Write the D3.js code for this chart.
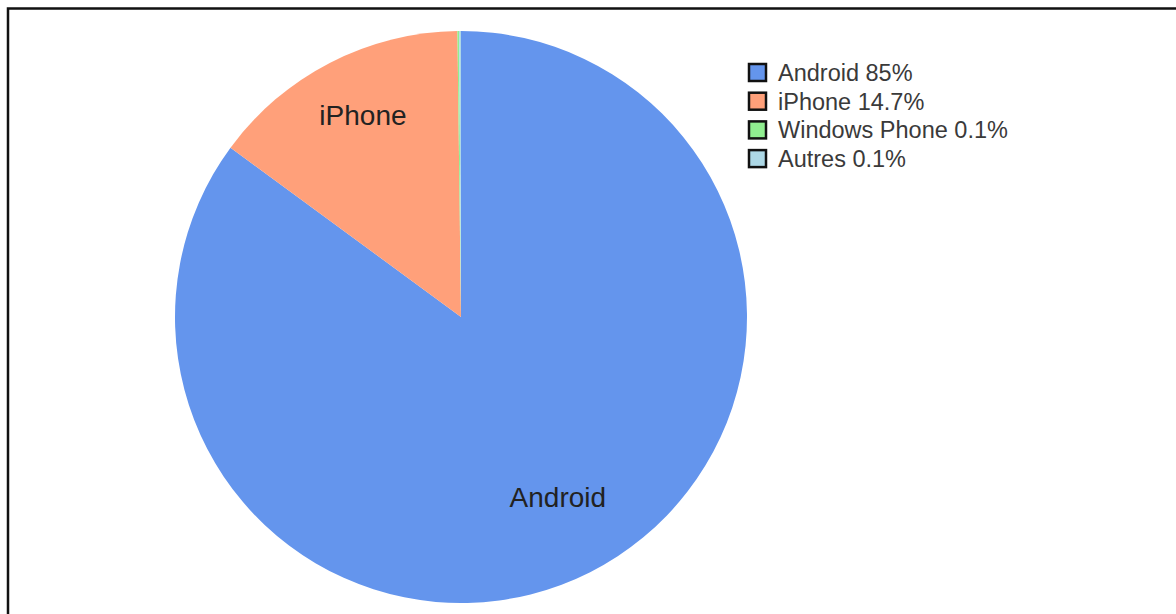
<!DOCTYPE html>
<html>
<head>
<meta charset="utf-8">
<script src="https://cdn.jsdelivr.net/npm/d3@7"></script>
<style>
  body { margin: 0; background: #fff; }
  svg { display: block; font-family: "Liberation Sans", Arial, sans-serif; }
</style>
</head>
<body>
<div id="chart"></div>
<script>
// Données du graphique
const categories = ["Android", "iPhone", "Windows Phone", "Autres"];
const values = [85, 14.7, 0.1, 0.1];
const legendLabels = ["Android 85%", "iPhone 14.7%", "Windows Phone 0.1%", "Autres 0.1%"];
const sliceLabels = ["Android", "iPhone", "", ""];
const sliceColors = ["#6495ED", "#FFA07A", "#90EE90", "#ADD8E6"];

const width = 1176;
const height = 614;
const cx = 461, cy = 317, radius = 286;

const svg = d3.select("#chart")
  .append("svg")
  .attr("width", width)
  .attr("height", height);

// cadre
svg.append("rect")
  .attr("x", 8)
  .attr("y", 8.5)
  .attr("width", width + 20)
  .attr("height", height + 20)
  .attr("fill", "none")
  .attr("stroke", "#111")
  .attr("stroke-width", 2.5);

const data = categories.map((c, i) => ({ name: c, value: values[i], label: sliceLabels[i], legend: legendLabels[i] }));

const color = d3.scaleOrdinal().domain(categories).range(sliceColors);

const pie = d3.pie().sort(null).value(d => d.value);
const arc = d3.arc().innerRadius(0).outerRadius(radius);
const labelArc = d3.arc().innerRadius(radius * 0.75).outerRadius(radius * 0.75);

const g = svg.append("g").attr("transform", "translate(" + cx + "," + cy + ")");

const arcs = pie(data);

g.selectAll("path")
  .data(arcs)
  .enter()
  .append("path")
  .attr("d", arc)
  .attr("fill", d => color(d.data.name));

g.selectAll("text")
  .data(arcs.filter(d => d.data.label))
  .enter()
  .append("text")
  .attr("x", d => labelArc.centroid(d)[0])
  .attr("y", d => labelArc.centroid(d)[1] - 1)
  .attr("text-anchor", "middle")
  .attr("font-size", 28)
  .attr("fill", "#222")
  .text(d => d.data.label);

// légende
const legend = svg.append("g").attr("transform", "translate(748,63)");

const rows = legend.selectAll("g")
  .data(data)
  .enter()
  .append("g")
  .attr("transform", (d, i) => "translate(0," + (i * 28.7) + ")");

rows.append("rect")
  .attr("x", 1)
  .attr("y", 1)
  .attr("width", 17)
  .attr("height", 17)
  .attr("fill", d => color(d.name))
  .attr("stroke", "#111")
  .attr("stroke-width", 2.5);

rows.append("text")
  .attr("x", 30)
  .attr("y", 18)
  .attr("font-size", 23.5)
  .attr("fill", "#3a3a3a")
  .text(d => d.legend);
</script>
</body>
</html>
